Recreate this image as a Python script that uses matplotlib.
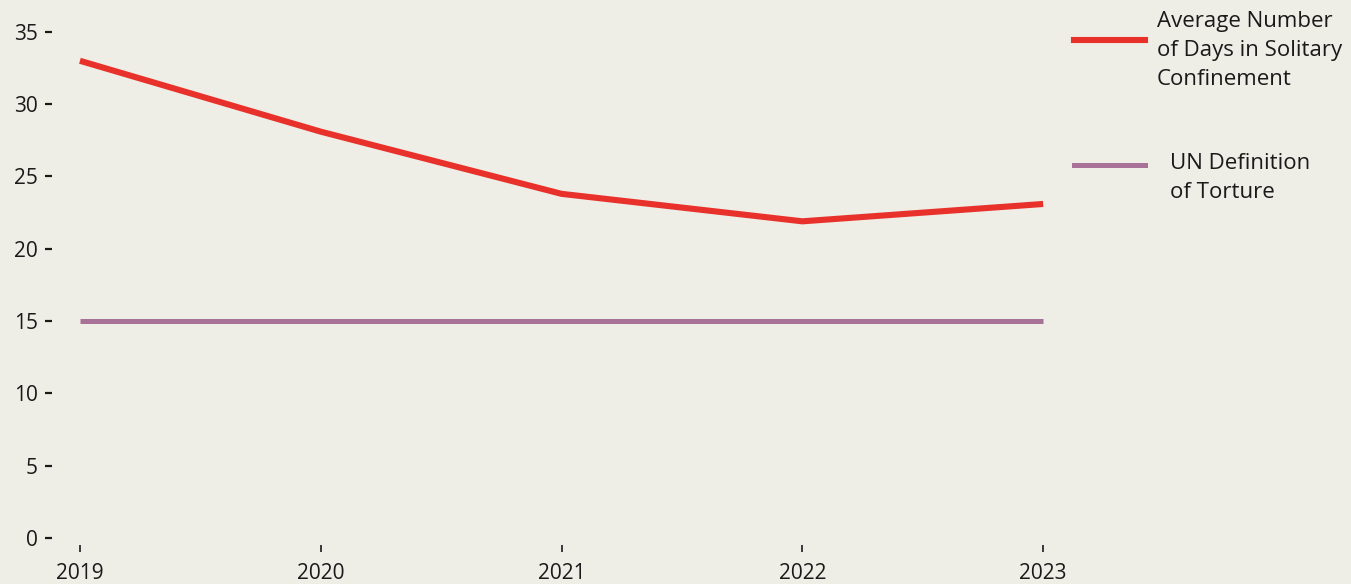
import matplotlib.pyplot as plt
from matplotlib.lines import Line2D

# data
years = [2019, 2020, 2021, 2022, 2023]
avg_days = [33.0, 28.1, 23.8, 21.9, 23.1]
un_definition = [15, 15, 15, 15, 15]
yticks = [0, 5, 10, 15, 20, 25, 30, 35]

bg = '#EEEDE6'
red = '#E8312A'
purple = '#A87298'
txt = '#1a1a1a'

plt.rcParams['font.family'] = ['Open Sans', 'DejaVu Sans']

W, H = 1351, 584
fig = plt.figure(figsize=(W / 100, H / 100), dpi=100, facecolor=bg)
ax = fig.add_axes([52 / W, (H - 545) / H, (1060 - 52) / W, (545 - 20) / H])
ax.set_facecolor(bg)

ax.plot(years, avg_days, color=red, lw=4.4, solid_capstyle='butt')
ax.plot(years, un_definition, color=purple, lw=3.6, solid_capstyle='butt')

ax.set_xlim(2018.884, 2023.07)
ax.set_ylim(-0.48, 35.82)
ax.set_xticks(years)
ax.set_xticklabels([str(y) for y in years])
ax.set_yticks(yticks)
ax.set_yticklabels([str(v) for v in yticks])

for s in ax.spines.values():
    s.set_visible(False)
ax.tick_params(axis='y', direction='out', length=5, width=1.6, pad=5,
               colors=txt, labelsize=15)
ax.tick_params(axis='x', direction='out', length=5, width=1.2, pad=8,
               colors=txt, labelsize=15)

# legend drawn by hand to match the layout
fig.add_artist(Line2D([1074 / W, 1145 / W], [1 - 40 / H, 1 - 40 / H],
                      color=red, lw=4.4, transform=fig.transFigure))
fig.text(1157 / W, 1 - 11 / H, 'Average Number\nof Days in Solitary\nConfinement',
         ha='left', va='top', fontsize=16, color=txt, linespacing=1.5)
fig.add_artist(Line2D([1074 / W, 1145 / W], [1 - 165 / H, 1 - 165 / H],
                      color=purple, lw=3.6, transform=fig.transFigure))
fig.text(1170 / W, 1 - 153 / H, 'UN Definition\nof Torture',
         ha='left', va='top', fontsize=16, color=txt, linespacing=1.5)

fig.savefig('out.png', dpi=100, facecolor=bg)
